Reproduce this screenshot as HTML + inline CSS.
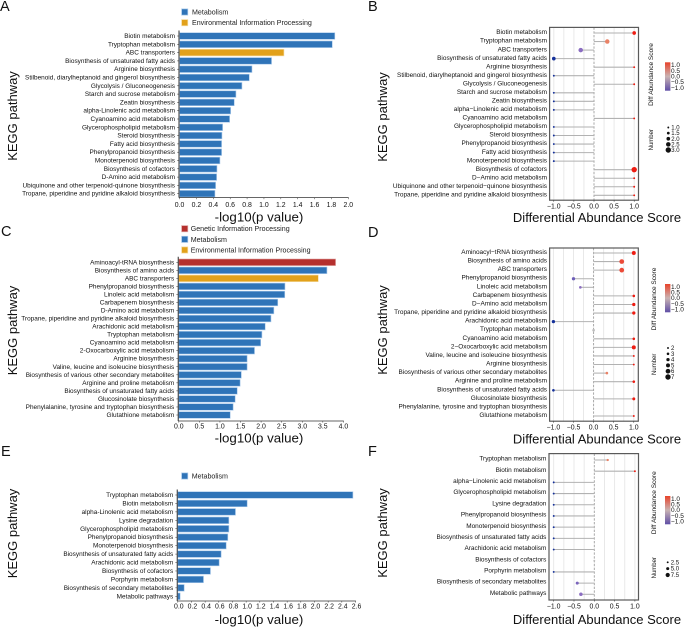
<!DOCTYPE html>
<html lang="en">
<head>
<meta charset="utf-8">
<title>KEGG pathway enrichment panels</title>
<style>
html,body{margin:0;padding:0;background:#fff;width:685px;height:627px;overflow:hidden}
svg{display:block;font-family:"Liberation Sans",Arial,sans-serif}
text{fill:#111}
.panel-letter{font-size:14.5px;fill:#111}
.big{font-size:13px;fill:#111}
.legend{font-size:7.1px;fill:#222}
.cat{font-size:6.45px;fill:#111}
.tick{font-size:6.9px;fill:#111}
.side{font-size:6.5px;fill:#111}
.small{font-size:6px;fill:#111}
</style>
</head>
<body>
<svg id="figure" xmlns="http://www.w3.org/2000/svg" width="685" height="627" viewBox="0 0 685 627">
  <defs>
    <linearGradient id="cbar" x1="0" y1="0" x2="0" y2="1">
      <stop offset="0" stop-color="#e8432a"/>
      <stop offset="0.5" stop-color="#c9b3b3"/>
      <stop offset="1" stop-color="#5f4ea6"/>
    </linearGradient>
  </defs>
  <text class="panel-letter" x="0" y="11">A</text>
  <text class="panel-letter" x="368" y="11">B</text>
  <text class="panel-letter" x="1" y="236">C</text>
  <text class="panel-letter" x="368" y="237">D</text>
  <text class="panel-letter" x="1" y="456">E</text>
  <text class="panel-letter" x="368" y="456">F</text>

  <text class="big" text-anchor="middle" transform="translate(17,116) rotate(-90)">KEGG pathway</text>
  <text class="big" text-anchor="middle" transform="translate(387,117) rotate(-90)">KEGG pathway</text>
  <text class="big" text-anchor="middle" transform="translate(17,330.5) rotate(-90)">KEGG pathway</text>
  <text class="big" text-anchor="middle" transform="translate(387,330) rotate(-90)">KEGG pathway</text>
  <text class="big" text-anchor="middle" transform="translate(17,533.5) rotate(-90)">KEGG pathway</text>
  <text class="big" text-anchor="middle" transform="translate(387,533) rotate(-90)">KEGG pathway</text>

  <text class="big" style="font-size:13.3px" text-anchor="middle" x="259" y="221.5">-log10(p value)</text>
  <text class="big" style="font-size:13.3px" text-anchor="middle" x="259" y="442.5">-log10(p value)</text>
  <text class="big" style="font-size:13.3px" text-anchor="middle" x="259" y="624">-log10(p value)</text>
  <text class="big" text-anchor="middle" x="597" y="222">Differential Abundance Score</text>
  <text class="big" text-anchor="middle" x="597" y="443.5">Differential Abundance Score</text>
  <text class="big" text-anchor="middle" x="597" y="624">Differential Abundance Score</text>

  <text class="side" text-anchor="middle" transform="translate(653,74.5) rotate(-90)">Diff Abundance Score</text>
  <text class="side" text-anchor="middle" transform="translate(656,299) rotate(-90)">Diff Abundance Score</text>
  <text class="side" text-anchor="middle" transform="translate(656,502.7) rotate(-90)">Diff Abundance Score</text>
  <text class="side" style="font-size:6px" text-anchor="middle" transform="translate(653,139.7) rotate(-90)">Number</text>
  <text class="side" style="font-size:6px" text-anchor="middle" transform="translate(656,364.3) rotate(-90)">Number</text>
  <text class="side" style="font-size:6px" text-anchor="middle" transform="translate(656,567.7) rotate(-90)">Number</text>

  <g id="panel-a"></g>
  <g id="panel-b"></g>
  <g id="panel-c"></g>
  <g id="panel-d"></g>
  <g id="panel-e"></g>
  <g id="panel-f"></g>
</svg>

<script>
/* ---------- Panel A data ---------- */
var aCategories = ["Biotin metabolism","Tryptophan metabolism","ABC transporters","Biosynthesis of unsaturated fatty acids","Arginine biosynthesis","Stilbenoid, diarylheptanoid and gingerol biosynthesis","Glycolysis / Gluconeogenesis","Starch and sucrose metabolism","Zeatin biosynthesis","alpha-Linolenic acid metabolism","Cyanoamino acid metabolism","Glycerophospholipid metabolism","Steroid biosynthesis","Fatty acid biosynthesis","Phenylpropanoid biosynthesis","Monoterpenoid biosynthesis","Biosynthesis of cofactors","D-Amino acid metabolism","Ubiquinone and other terpenoid-quinone biosynthesis","Tropane, piperidine and pyridine alkaloid biosynthesis"];
var aValues = [1.84,1.81,1.237,1.09,0.858,0.826,0.739,0.668,0.648,0.605,0.593,0.51,0.502,0.498,0.498,0.478,0.443,0.439,0.427,0.419];
var aGroups = ["M","M","E","M","M","M","M","M","M","M","M","M","M","M","M","M","M","M","M","M"];
var aTicks = [0,0.2,0.4,0.6,0.8,1.0,1.2,1.4,1.6,1.8,2.0];
var aLegend = ["M","E"];

/* ---------- Panel C data ---------- */
var cCategories = ["Aminoacyl-tRNA biosynthesis","Biosynthesis of amino acids","ABC transporters","Phenylpropanoid biosynthesis","Linoleic acid metabolism","Carbapenem biosynthesis","D-Amino acid metabolism","Tropane, piperidine and pyridine alkaloid biosynthesis","Arachidonic acid metabolism","Tryptophan metabolism","Cyanoamino acid metabolism","2-Oxocarboxylic acid metabolism","Arginine biosynthesis","Valine, leucine and isoleucine biosynthesis","Biosynthesis of various other secondary metabolites","Arginine and proline metabolism","Biosynthesis of unsaturated fatty acids","Glucosinolate biosynthesis","Phenylalanine, tyrosine and tryptophan biosynthesis","Glutathione metabolism"];
var cValues = [3.81,3.6,3.39,2.58,2.575,2.405,2.31,2.24,2.1,2.02,1.99,1.84,1.66,1.66,1.52,1.49,1.42,1.37,1.32,1.25];
var cGroups = ["G","M","E","M","M","M","M","M","M","M","M","M","M","M","M","M","M","M","M","M"];
var cTicks = [0,0.5,1.0,1.5,2.0,2.5,3.0,3.5,4.0];
var cLegend = ["G","M","E"];

/* ---------- Panel E data ---------- */
var eCategories = ["Tryptophan metabolism","Biotin metabolism","alpha-Linolenic acid metabolism","Lysine degradation","Glycerophospholipid metabolism","Phenylpropanoid biosynthesis","Monoterpenoid biosynthesis","Biosynthesis of unsaturated fatty acids","Arachidonic acid metabolism","Biosynthesis of cofactors","Porphyrin metabolism","Biosynthesis of secondary metabolites","Metabolic pathways"];
var eValues = [2.562,1.015,0.844,0.747,0.747,0.732,0.708,0.634,0.605,0.478,0.376,0.093,0.034];
var eGroups = ["M","M","M","M","M","M","M","M","M","M","M","M","M"];
var eTicks = [0,0.2,0.4,0.6,0.8,1.0,1.2,1.4,1.6,1.8,2.0,2.2,2.4,2.6];
var eLegend = ["M"];

/* ---------- Panel B data ---------- */
var bCategories = ["Biotin metabolism","Tryptophan metabolism","ABC transporters","Biosynthesis of unsaturated fatty acids","Arginine biosynthesis","Stilbenoid, diarylheptanoid and gingerol biosynthesis","Glycolysis / Gluconeogenesis","Starch and sucrose metabolism","Zeatin biosynthesis","alpha\u2212Linolenic acid metabolism","Cyanoamino acid metabolism","Glycerophospholipid metabolism","Steroid biosynthesis","Phenylpropanoid biosynthesis","Fatty acid biosynthesis","Monoterpenoid biosynthesis","Biosynthesis of cofactors","D\u2212Amino acid metabolism","Ubiquinone and other terpenoid\u2212quinone biosynthesis","Tropane, piperidine and pyridine alkaloid biosynthesis"];
var bScores = [1,0.33,-0.33,-1,1,-1,1,-1,-1,-1,1,-1,-1,-1,-1,-1,1,1,1,1];
var bNumbers = [2,2.5,2.5,2,1,1,1,1,1,1,1,1,1,1,1,1,3,1,1,1];
var bSizeTicks = ["1.0","1.5","2.0","2.5","3.0"];

/* ---------- Panel D data ---------- */
var dCategories = ["Aminoacyl\u2212tRNA biosynthesis","Biosynthesis of amino acids","ABC transporters","Phenylpropanoid biosynthesis","Linoleic acid metabolism","Carbapenem biosynthesis","D\u2212Amino acid metabolism","Tropane, piperidine and pyridine alkaloid biosynthesis","Arachidonic acid metabolism","Tryptophan metabolism","Cyanoamino acid metabolism","2\u2212Oxocarboxylic acid metabolism","Valine, leucine and isoleucine biosynthesis","Arginine biosynthesis","Biosynthesis of various other secondary metabolites","Arginine and proline metabolism","Biosynthesis of unsaturated fatty acids","Glucosinolate biosynthesis","Phenylalanine, tyrosine and tryptophan biosynthesis","Glutathione metabolism"];
var dScores = [1,0.7,0.7,-0.5,-0.33,1,1,1,-1,0,1,1,1,1,0.33,1,-1,1,null,1];
var dNumbers = [5,6,6,4,3,3,4,4,4,3,3,5,2,2,3,3,3,3.5,2,2];
var dSizeTicks = ["2","3","4","5","6","7"];

/* ---------- Panel F data ---------- */
var fCategories = ["Tryptophan metabolism","Biotin metabolism","alpha\u2212Linolenic acid metabolism","Glycerophospholipid metabolism","Lysine degradation","Phenylpropanoid biosynthesis","Monoterpenoid biosynthesis","Biosynthesis of unsaturated fatty acids","Arachidonic acid metabolism","Biosynthesis of cofactors","Porphyrin metabolism","Biosynthesis of secondary metabolites","Metabolic pathways"];
var fScores = [0.33,1,-1,-1,-1,-1,-1,-1,-1,0,-1,-0.42,-0.33];
var fNumbers = [3.5,2.5,2.5,2.5,2.5,2.5,2.5,2.5,2.5,2.5,2.5,5,6];
var fSizeTicks = ["2.5","5.0","7.5"];

/* ---------- Shared labels ---------- */
var scoreTicks = [-1,-0.5,0,0.5,1];
var colorTicks = ["1.0","0.5","0.0","\u22120.5","\u22121.0"];
var groupNames = {G:"Genetic Information Processing",M:"Metabolism",E:"Environmental Information Processing"};
var groupColors = {G:"#b5302e",M:"#2f74b8",E:"#e2a11b"};
var groupEdges = {G:"#e0a8a6",M:"#a9c9ea",E:"#f4dca4"};

var NS = "http://www.w3.org/2000/svg";
function mk(parent, tag, attrs, txt) {
  var el = document.createElementNS(NS, tag);
  for (var k in attrs) el.setAttribute(k, attrs[k]);
  if (txt !== undefined) el.textContent = txt;
  parent.appendChild(el);
  return el;
}
function hex(c){return [parseInt(c.substr(1,2),16),parseInt(c.substr(3,2),16),parseInt(c.substr(5,2),16)];}
function scoreColor(v){
  var stops=[[-1,"#15319a"],[-0.33,"#8b6dc1"],[0,"#bdbdbd"],[0.33,"#e98266"],[1,"#ee1c12"]];
  for(var i=0;i<stops.length-1;i++){
    if(v<=stops[i+1][0]){
      var t=(v-stops[i][0])/(stops[i+1][0]-stops[i][0]);
      var a=hex(stops[i][1]),b=hex(stops[i+1][1]);
      return "rgb("+[0,1,2].map(function(j){return Math.round(a[j]+(b[j]-a[j])*t);}).join(",")+")";
    }
  }
  return stops[4][1];
}

function drawBars(id, categories, values, groups, ticks, legend, p) {
  var g = document.getElementById(id);
  function xScale(v){ return p.x0 + (v - ticks[0]) / (ticks[ticks.length-1] - ticks[0]) * (p.x1 - p.x0); }
  function yScale(i){ return p.yFirst + i * (p.yLast - p.yFirst) / (categories.length - 1); }
  legend.forEach(function(key, i){
    var ly = p.legendY + i * p.legendStep;
    var sw = mk(g,"rect",{x:p.swatchX,y:ly-3.1,width:6.2,height:6.2,fill:groupColors[key],stroke:groupEdges[key],"stroke-width":0.7});
    
    
    var lt = mk(g,"text",{x:p.legendX,y:ly+2.4,"class":"legend"},groupNames[key]);
    
    
  });
  categories.forEach(function(name, i){
    var y = yScale(i);
    var bar = mk(g,"rect",{x:xScale(0),y:y-3.3,width:xScale(values[i])-xScale(0),height:6.6,fill:groupColors[groups[i]],stroke:groupEdges[groups[i]],"stroke-width":0.6});
    
    
    var tk = mk(g,"line",{x1:p.x0-2.5,x2:p.x0-0.5,y1:y,y2:y,stroke:"#333","stroke-width":0.5});
    
    
    var lb = mk(g,"text",{x:p.x0-4.6,y:y+2,"text-anchor":"end","class":"cat"},name);
    
    
  });
  var ya = mk(g,"line",{x1:p.x0-0.6,x2:p.x0-0.6,y1:p.yFirst-5.5,y2:p.axisY,stroke:"#1a1a1a","stroke-width":0.9});
  
  
  var xa = mk(g,"line",{x1:p.x0-0.6,x2:p.x1+0.4,y1:p.axisY,y2:p.axisY,stroke:"#333","stroke-width":0.7});
  
  
  ticks.forEach(function(t){
    var xt = mk(g,"line",{x1:xScale(t),x2:xScale(t),y1:p.axisY,y2:p.axisY+1.6,stroke:"#333","stroke-width":0.5});
    
    
    var xl = mk(g,"text",{x:xScale(t)+p.tickDx,y:p.axisY+p.tickDy,"text-anchor":"middle","class":"tick"},t.toFixed(1));
    
    
  });
}

function drawLollipop(id, categories, scores, numbers, sizeTicks, p) {
  var g = document.getElementById(id);
  function xScale(v){ return p.xZero + v * p.xUnit; }
  function yScale(i){ return p.yFirst + i * (p.yLast - p.yFirst) / (categories.length - 1); }
  function rScale(n){
    var lo = parseFloat(sizeTicks[0]), hi = parseFloat(sizeTicks[sizeTicks.length-1]);
    return p.rMin + (n - lo) / (hi - lo) * (p.rMax - p.rMin);
  }
  for (var gv = -1; gv <= 1; gv += 0.25) {
    if (gv === 0) continue;
    var gl = mk(g,"line",{x1:xScale(gv),x2:xScale(gv),y1:p.boxTop,y2:p.boxBottom,stroke:"#e6e6e6","stroke-width":0.9});
    
    
  }
  var zl = mk(g,"line",{x1:xScale(0),x2:xScale(0),y1:p.boxTop,y2:p.boxBottom,stroke:"#a0a0a0","stroke-width":0.9,"stroke-dasharray":"2.4 1.4"});
  
  
  categories.forEach(function(name, i){
    var y = yScale(i), v = scores[i];
    var lb = mk(g,"text",{x:p.boxLeft-2.6,y:y+p.labelDy,"text-anchor":"end","class":"cat"},name);
    
    
    if (v === null) return;
    var st = mk(g,"line",{x1:xScale(0),x2:xScale(v),y1:y,y2:y,stroke:"#b2b2b2","stroke-width":1.05});
    
    
    var dot = mk(g,"circle",{cx:xScale(v),cy:y,r:rScale(numbers[i]),fill:scoreColor(v)});
    
    
  });
  var box = mk(g,"rect",{x:p.boxLeft,y:p.boxTop,width:p.boxRight-p.boxLeft,height:p.boxBottom-p.boxTop,fill:"none",stroke:"#5a5a5a","stroke-width":1.2});
  
  
  scoreTicks.forEach(function(t){
    var xt = mk(g,"line",{x1:xScale(t),x2:xScale(t),y1:p.boxBottom,y2:p.boxBottom+1.6,stroke:"#333","stroke-width":0.5});
    
    
    var xl = mk(g,"text",{x:xScale(t),y:p.boxBottom+8.3,"text-anchor":"middle","class":"tick"},(t<0?"\u2212":"")+Math.abs(t).toFixed(1));
    
    
  });
  var cb = mk(g,"rect",{x:665,y:p.cbTop,width:5.4,height:p.cbBottom-p.cbTop,fill:"url(#cbar)"});
  
  
  colorTicks.forEach(function(t, i){
    var cl = mk(g,"text",{x:671,y:p.cbTop+2.9+i*(p.cbBottom-p.cbTop-5.8)/(colorTicks.length-1)+2,"class":"side"},t);
    
    
  });
  sizeTicks.forEach(function(t, i){
    var sy = p.sizeTop + i * (p.sizeBottom - p.sizeTop) / (sizeTicks.length - 1);
    var sd = mk(g,"circle",{cx:p.sizeX,cy:sy,r:rScale(parseFloat(t)),fill:"#111"});
    
    
    var sl = mk(g,"text",{x:p.sizeX+3,y:sy+2,"class":"small"},t);
    
    
  });
}

drawBars("panel-a", aCategories, aValues, aGroups, aTicks, aLegend,
  {x0:179.6,x1:348.3,yFirst:36,yLast:193.7,axisY:197.6,tickDy:9.4,tickDx:0,legendY:12,legendStep:10.7,swatchX:181.6,legendX:192});
drawBars("panel-c", cCategories, cValues, cGroups, cTicks, cLegend,
  {x0:178.8,x1:343.4,yFirst:262.3,yLast:415,axisY:421,tickDy:7.4,tickDx:0,legendY:228.7,legendStep:10.65,swatchX:181.6,legendX:190.7});
drawBars("panel-e", eCategories, eValues, eGroups, eTicks, eLegend,
  {x0:177.8,x1:355.5,yFirst:495,yLast:596.3,axisY:601,tickDy:7.6,tickDx:1,legendY:476,legendStep:10,swatchX:181.6,legendX:191.7});

drawLollipop("panel-b", bCategories, bScores, bNumbers, bSizeTicks,
  {xZero:594,xUnit:40.2,yFirst:33,yLast:195.3,labelDy:1.2,boxLeft:549.6,boxRight:638.5,boxTop:27.4,boxBottom:200.2,rMin:0.95,rMax:2.7,cbTop:62.3,cbBottom:90.7,sizeX:668.3,sizeTop:127.5,sizeBottom:150});
drawLollipop("panel-d", dCategories, dScores, dNumbers, dSizeTicks,
  {xZero:593.6,xUnit:40.2,yFirst:253,yLast:416,labelDy:1,boxLeft:549.6,boxRight:638.3,boxTop:248,boxBottom:421.2,rMin:0.95,rMax:2.7,cbTop:284,cbBottom:312.3,sizeX:668,sizeTop:348,sizeBottom:377});
drawLollipop("panel-f", fCategories, fScores, fNumbers, fSizeTicks,
  {xZero:594.3,xUnit:40.6,yFirst:460,yLast:594.3,labelDy:0.6,boxLeft:549,boxRight:638.5,boxTop:453.6,boxBottom:600,rMin:0.95,rMax:2.1,cbTop:496,cbBottom:524.3,sizeX:667.7,sizeTop:562.3,sizeBottom:575});
</script>
</body>
</html>
